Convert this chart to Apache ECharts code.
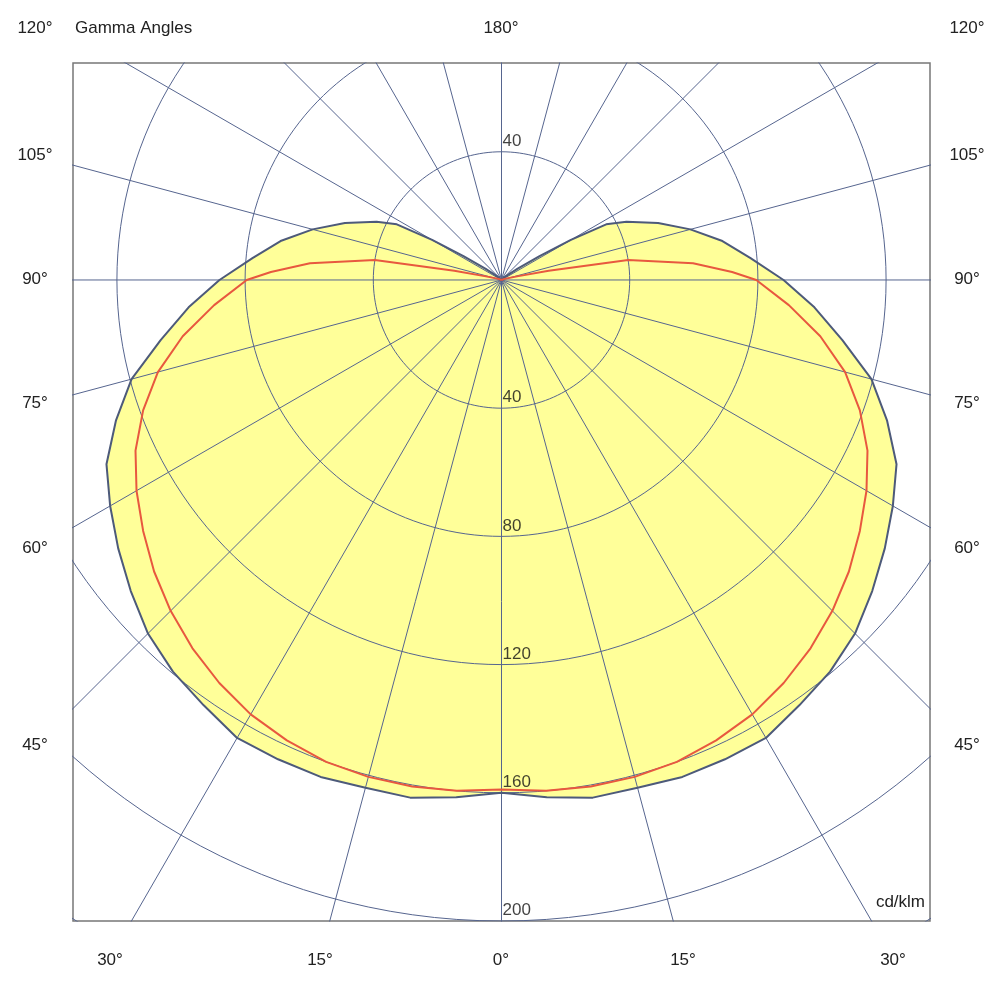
<!DOCTYPE html>
<html><head><meta charset="utf-8">
<script src="https://cdn.jsdelivr.net/npm/echarts@6/dist/echarts.min.js"></script>
<style>html,body{margin:0;padding:0;background:#fff}#c{width:1000px;height:988px}</style>
</head><body><div id="c"></div>
<script>
// C0-C180 plane (yellow)
var gammaC0 = [0,5,10,15,20,25,30,35,40,45,50,55,60,65,70,75,80,85,90,95,100,105,110,115,118,120,122,125,130,140,180];
var valuesC0 = [160,162,164,164,165,165,165,162,159.5,156,151,146,141,136,128,119.5,108,98,88,78,70,61,52,43,37,25,14,6,2,0.5,0];
// C90-C270 plane (red)
var gammaC90 = [0,5,10,15,20,25,30,35,40,45,50,55,60,65,70,75,80,85,90,92,95,99,101,103,110,180];
var valuesC90 = [159,160,160.5,160.5,160,158.5,156.5,153.5,150,146,141.5,136.5,131.5,126,119,111,101,90,79.5,72,60,40,15,5,1,0];
var circleValues = [40,80,120,160,200,240];
var rayAngles = []; for (var a=0;a<360;a+=15) rayAngles.push(a);
var bottomTicks = ['30°','15°','0°','15°','30°'];
var sideTicks = ['120°','105°','90°','75°','60°','45°'];

function pt(g, r){ var t=g*Math.PI/180; return [r*Math.sin(t), -r*Math.cos(t)]; }
function curve(gs, vs){
  var right=[], left=[];
  for (var i=0;i<gs.length;i++){ right.push(pt(gs[i],vs[i])); }
  for (var j=gs.length-1;j>=0;j--){ left.push(pt(-gs[j],vs[j])); }
  return left.concat(right.slice(1));
}
var c0 = curve(gammaC0, valuesC0), c90 = curve(gammaC90, valuesC90);
var gridCol = '#56658f';
var series = [];
series.push({type:'custom', z:1, renderItem:function(p, api){
  return {type:'polygon', shape:{points:c0.map(function(d){return api.coord(d);})},
    style:{fill:'#ffff99', stroke:'none'}};
}, data:[0]});
circleValues.forEach(function(r){
  var d=[]; for (var a=0;a<=360;a+=2) d.push(pt(a,r));
  series.push({type:'line', z:2, data:d, symbol:'none', silent:true, clip:true,
    lineStyle:{color:gridCol, width:1}});
});
rayAngles.forEach(function(a){
  series.push({type:'line', z:2, data:[[0,0],pt(a,400)], symbol:'none', silent:true, clip:true,
    lineStyle:{color:gridCol, width:1}});
});
series.push({type:'line', z:4, data:c0, symbol:'none', clip:true, lineStyle:{color:'#4d5a7a', width:2}});
series.push({type:'line', z:5, data:c90, symbol:'none', clip:true, lineStyle:{color:'#e8583f', width:2}});
var lab=[[0,40,'40']].concat([40,80,120,160,200].map(function(v){return [0,-v,String(v)];}));
series.push({type:'scatter', z:6, symbolSize:0, data:lab, clip:false,
  label:{show:true, position:[1,-19], align:'left', formatter:function(p){return p.data[2];},
  color:'#111', fontSize:17, fontFamily:'Liberation Sans, Arial'}});

var tf = {fontSize:17, fill:'#222', fontFamily:'Liberation Sans, Arial'};
function txt(x,y,s,align){ return {type:'text', left:undefined, x:x, y:y, style:Object.assign({text:s, textAlign:align||'center', textVerticalAlign:'middle'}, tf)}; }
var g=[];
var sideY=[28,155,279,403,548,745];
sideTicks.forEach(function(s,i){ g.push(txt(35,sideY[i],s)); g.push(txt(967,sideY[i],s)); });
g.push(txt(75,28,'Gamma Angles','left'));
g.push(txt(501,28,'180°'));
var bx=[110,320,501,683,893];
bottomTicks.forEach(function(s,i){ g.push(txt(bx[i],960,s)); });
g.push(txt(925,902,'cd/klm','right'));

var chart = echarts.init(document.getElementById('c'));
chart.setOption({
  animation:false,
  grid:{left:73, right:70, top:63, bottom:67, show:true, borderColor:'#777', borderWidth:1.5, backgroundColor:'#fff'},
  xAxis:{type:'value', min:-133.7, max:133.7, show:false},
  yAxis:{type:'value', min:-200, max:67.7, show:false},
  graphic:g,
  series:series
});
</script></body></html>
